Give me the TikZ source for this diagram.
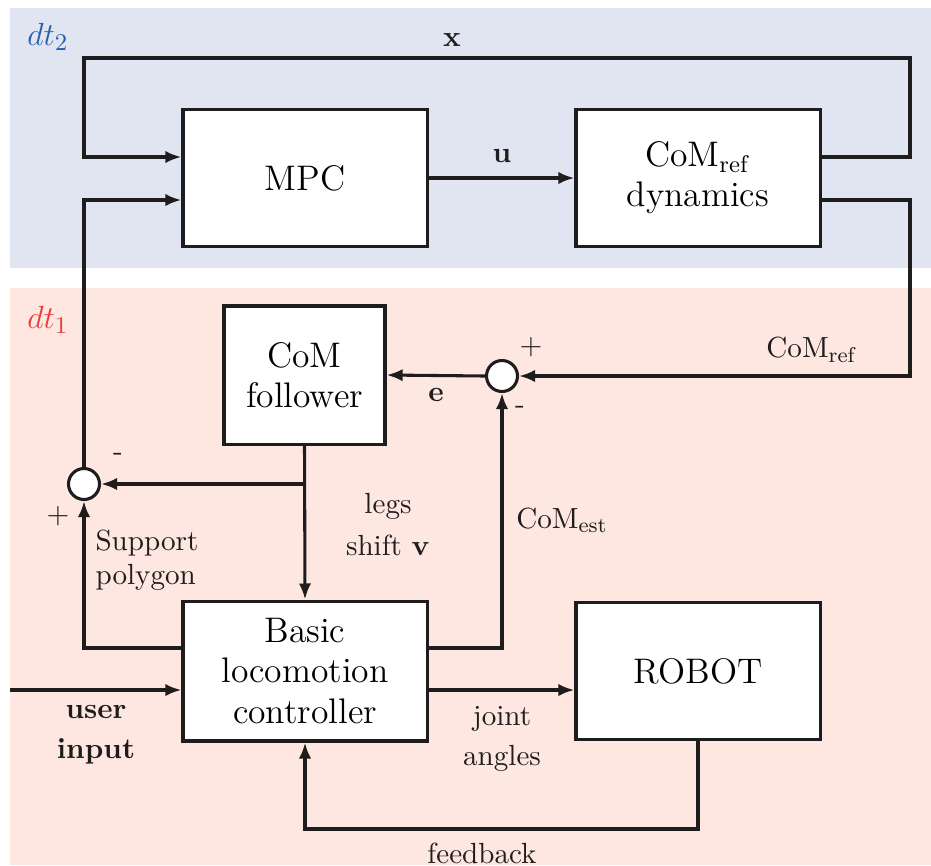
\documentclass[tikz,border=0pt]{standalone}
\usetikzlibrary{arrows.meta}
\definecolor{slowbg}{RGB}{224,229,241}
\definecolor{fastbg}{RGB}{253,231,224}
\definecolor{slowtxt}{RGB}{40,95,180}
\definecolor{fasttxt}{RGB}{235,60,60}
\definecolor{ink}{RGB}{30,28,28}
\newcommand\blkfont{\fontsize{13.3}{15}\selectfont}
\newcommand\lblfont{\fontsize{10.9}{12}\selectfont}
\begin{document}
\begin{tikzpicture}[x=0.3745pt,y=-0.3745pt,
  blk/.style={draw=ink, line width=1.15pt, fill=white, minimum width=91.4pt,
    minimum height=51.3pt, align=center, font=\blkfont, inner sep=0pt},
  sumc/.style={circle, draw=ink, line width=1.15pt, fill=white,
    minimum size=11.6pt, inner sep=0pt},
  wire/.style={line width=1.15pt, draw=ink},
  arr/.style={wire, -{Latex[length=6pt,width=4.6pt]}},
  lbl/.style={font=\lblfont, inner sep=0pt, text=ink}]
\useasboundingbox (0,0) rectangle (931,865);
% sampling-time regions
\fill[slowbg] (10,8) rectangle (931,268);
\fill[fastbg] (10,288) rectangle (931,865);
\node[font=\fontsize{12.7}{15}\selectfont, text=slowtxt] (dttwo) at (48,37) {$dt_2$};
\node[font=\fontsize{12.7}{15}\selectfont, text=fasttxt] (dtone) at (48,320) {$dt_1$};

% blocks
\node[blk] (mpc) at (305,178) {MPC};
\node[blk] (dyn) at (698,178) {CoM$_\mathrm{ref}$\\dynamics};
\node[blk, minimum width=60.3pt, minimum height=51.7pt] (fol) at (304.5,375) {CoM\\follower};
\node[blk, minimum height=52.4pt] (blc) at (305,671) {Basic\\locomotion\\controller};
\node[blk] (rob) at (698,671) {ROBOT};
\node[sumc] (sa) at (502,376) {};
\node[sumc] (sb) at (84,484) {};

% helper points
\coordinate (xr) at (910,58);
\coordinate (xl) at (84,58);
\coordinate (ya) at (0,157);
\coordinate (yb) at (0,200);
\coordinate (yc) at (0,648);
\coordinate (yd) at (0,690);
\coordinate (br) at (305,484);
\coordinate (uin) at (10,690);
\coordinate (fbr) at (698,829);
\coordinate (fbl) at (305,829);

% slow loop
\draw[arr] (dyn.east |- ya) -| (xr) -- (xl) |- (mpc.west |- ya);
\draw[arr] (sb.north) |- (mpc.west |- yb);
\draw[arr] (mpc.east) -- (dyn.west);
\draw[arr] (dyn.east |- yb) -| (910,376) -- (sa.east);

% fast loop
\draw[arr] (sa.west) -- (fol.east);
\draw[arr] (fol.south) -- (blc.north);
\draw[arr] (br) -- (sb.east);
\draw[arr] (blc.west |- yc) -| (sb.south);
\draw[arr] (blc.east |- yc) -| (sa.south);
\draw[arr] (uin) -- (blc.west |- yd);
\draw[arr] (blc.east |- yd) -- (rob.west |- yd);
\draw[arr] (rob.south) -- (fbr) -- (fbl) -- (blc.south);

% labels
\node[lbl] (lx) at (452,40) {$\mathbf{x}$};
\node[lbl] (lu) at (502,156) {$\mathbf{u}$};
\node[lbl] (lref) at (812,350) {CoM$_\mathrm{ref}$};
\node[lbl] (pa) at (531,347) {$+$};
\node[lbl] (ma) at (520,410) {-};
\node[lbl] (le) at (436,395) {$\mathbf{e}$};
\node[lbl] (mb) at (118,457) {-};
\node[lbl] (pb) at (58,516) {$+$};
\node[lbl, anchor=west, align=left, font=\fontsize{10.9}{12.6}\selectfont] (lsup) at (95,560) {Support\\polygon};
\node[lbl, align=center, font=\fontsize{10.9}{15.7}\selectfont] (lleg) at (388,525) {legs\\shift $\mathbf{v}$};
\node[lbl] (lest) at (562,520) {CoM$_\mathrm{est}$};
\node[lbl, align=center, font=\fontsize{10.9}{15}\selectfont\bfseries] (luser) at (96,735) {user\\input};
\node[lbl, align=center, font=\fontsize{10.9}{15}\selectfont] (ljoint) at (502,739) {joint\\angles};
\node[lbl] (lfb) at (482,853) {feedback};
\end{tikzpicture}
\end{document}
